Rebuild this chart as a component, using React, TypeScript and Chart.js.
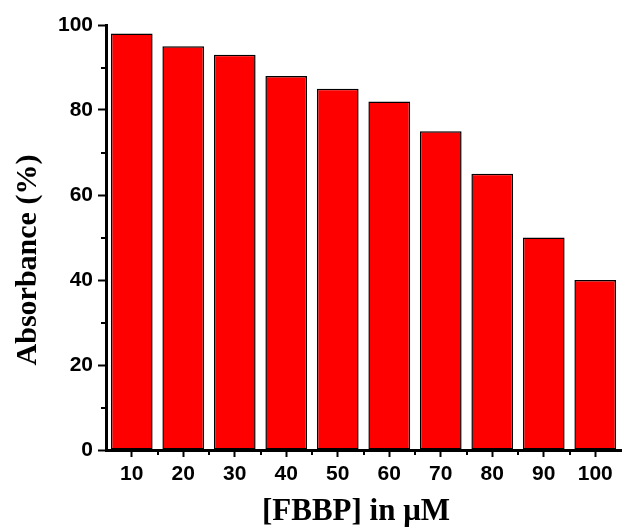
import React, { useEffect, useRef } from "react";
import { Chart, registerables } from "chart.js";

Chart.register(...registerables);

const categories = ["10", "20", "30", "40", "50", "60", "70", "80", "90", "100"];
const absorbance = [98, 95, 93, 88, 85, 82, 75, 65, 50, 40];
const yMinorTicks = [10, 30, 50, 70, 90];
const xTitle = "[FBBP] in \u03BCM";
const yTitle = "Absorbance (%)";

const TITLE_FAMILY = "'Liberation Serif', 'Times New Roman', serif";

const minorTicksAndTitles = {
  id: "minorTicksAndTitles",
  afterDraw(chart: any) {
    const { ctx, chartArea, scales } = chart;
    const x = scales.x;
    const y = scales.y;
    ctx.save();
    ctx.strokeStyle = "#000";
    ctx.lineWidth = 2;
    ctx.beginPath();
    for (const v of yMinorTicks) {
      const py = Math.round(y.getPixelForValue(v));
      ctx.moveTo(chartArea.left - 5, py);
      ctx.lineTo(chartArea.left, py);
    }
    for (let i = 0; i < categories.length - 1; i++) {
      const px = Math.round((x.getPixelForValue(i) + x.getPixelForValue(i + 1)) / 2);
      ctx.moveTo(px, chartArea.bottom);
      ctx.lineTo(px, chartArea.bottom + 5);
    }
    ctx.stroke();

    ctx.fillStyle = "#000";
    // x title
    ctx.font = `bold 31px ${TITLE_FAMILY}`;
    ctx.textAlign = "center";
    ctx.textBaseline = "alphabetic";
    ctx.fillText(xTitle, 356, 520);
    // y title
    ctx.translate(36, 260);
    ctx.rotate(-Math.PI / 2);
    ctx.font = `bold 30px ${TITLE_FAMILY}`;
    ctx.textAlign = "center";
    ctx.textBaseline = "alphabetic";
    ctx.fillText(yTitle, 0, 0);
    ctx.restore();
  },
};

export default function App() {
  const ref = useRef<HTMLCanvasElement | null>(null);
  useEffect(() => {
    if (!ref.current) return;
    const tickFont = { family: "'Liberation Sans', Arial, sans-serif", weight: "bold" as const, size: 21 };
    const chart = new Chart(ref.current, {
      type: "bar",
      data: {
        labels: categories,
        datasets: [
          {
            data: absorbance,
            backgroundColor: "#FF0000",
            borderColor: "#000000",
            borderWidth: 1.5,
            borderSkipped: false,
            barPercentage: 0.81,
            categoryPercentage: 1,
          },
        ],
      },
      plugins: [minorTicksAndTitles],
      options: {
        animation: false,
        responsive: false,
        maintainAspectRatio: false,
        layout: { padding: { left: 0, top: 25, right: 4, bottom: 0 } },
        plugins: { legend: { display: false }, tooltip: { enabled: false } },
        scales: {
          x: {
            afterFit: (s: any) => {
              s.height = 80;
            },
            grid: {
              offset: false,
              drawOnChartArea: false,
              drawTicks: true,
              tickLength: 7,
              tickWidth: 2,
              tickColor: "#000",
            },
            border: { display: true, color: "#000", width: 3 },
            ticks: { color: "#000", font: tickFont, padding: 5, maxRotation: 0 },
          },
          y: {
            min: 0,
            max: 100,
            afterFit: (s: any) => {
              s.width = 106;
            },
            grid: {
              drawOnChartArea: false,
              drawTicks: true,
              tickLength: 8,
              tickWidth: 2,
              tickColor: "#000",
            },
            border: { display: true, color: "#000", width: 3 },
            ticks: { stepSize: 20, color: "#000", font: tickFont, padding: 5 },
          },
        },
      },
    });
    return () => chart.destroy();
  }, []);
  return (
    <div style={{ position: "fixed", left: 0, top: 0, width: 625, height: 530, background: "#fff" }}>
      <canvas ref={ref} width={625} height={530} style={{ width: 625, height: 530 }} />
    </div>
  );
}
